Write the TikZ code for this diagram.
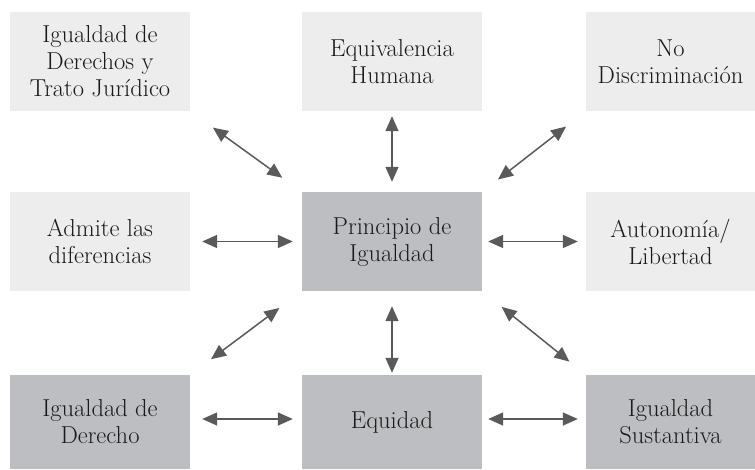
\documentclass[tikz,border=0pt]{standalone}
\usepackage{fontspec}
\setmainfont{Latin Modern Roman}
\usetikzlibrary{arrows.meta}
\definecolor{lightbox}{HTML}{EDEDED}
\definecolor{darkbox}{HTML}{BDBEC1}
\definecolor{arrowgray}{HTML}{5A5A5A}
\definecolor{textgray}{HTML}{1A1A1A}
\begin{document}
\begin{tikzpicture}[x=1pt,y=-1pt,
  boxbase/.style={inner sep=0pt, align=center, text=textgray,
    font=\fontsize{24.5}{27}\selectfont, minimum height=99pt},
  lightnode/.style={boxbase, fill=lightbox},
  darknode/.style={boxbase, fill=darkbox},
  link/.style={arrowgray, line width=1.5pt,
    {Triangle[length=15pt,width=13pt]}-{Triangle[length=15pt,width=13pt]}}]
\useasboundingbox (0,0) rectangle (755,469);
% top row
\node[lightnode, minimum width=180pt] (tl) at (100,61.5) {Igualdad de\\Derechos y\\Trato Jurídico};
\node[lightnode, minimum width=180pt] (tm) at (392,61.5) {Equivalencia\\Humana};
\node[lightnode, minimum width=169pt] (tr) at (670.5,61.5) {No\\Discriminación};
% middle row
\node[lightnode, minimum width=180pt] (ml) at (100,241.5) {Admite las\\diferencias};
\node[darknode, minimum width=180pt] (c) at (392,241.5) {Principio de\\Igualdad};
\node[lightnode, minimum width=169pt] (mr) at (670.5,241.5) {Autonomía/\\Libertad};
% bottom row
\node[darknode, minimum width=180pt, minimum height=94pt] (bl) at (100,422) {Igualdad de\\Derecho};
\node[darknode, minimum width=180pt, minimum height=94pt] (bm) at (392,422) {Equidad};
\node[darknode, minimum width=169pt, minimum height=94pt] (br) at (670.5,422) {Igualdad\\Sustantiva};
% connectors
\draw[link, shorten <=28pt, shorten >=24pt] (tl.south east) -- (c.north west);
\draw[link, shorten <=5pt, shorten >=10pt] (tm.south) -- (c.north);
\draw[link, shorten <=20pt, shorten >=25pt] (c.north east) -- (tr.south west);
\draw[link, shorten <=12pt, shorten >=9pt] (ml.east) -- (c.west);
\draw[link, shorten <=6pt, shorten >=8pt] (c.east) -- (mr.west);
\draw[link, shorten <=26pt, shorten >=28pt] (bl.north east) -- (c.south west);
\draw[link, shorten <=15pt, shorten >=2pt] (c.south) -- (bm.north);
\draw[link, shorten <=25pt, shorten >=21pt] (c.south east) -- (br.north west);
\draw[link, shorten <=12pt, shorten >=9pt] ([yshift=3pt]bl.east) -- ([yshift=3pt]bm.west);
\draw[link, shorten <=6pt, shorten >=8pt] ([yshift=3pt]bm.east) -- ([yshift=3pt]br.west);
\end{tikzpicture}
\end{document}
